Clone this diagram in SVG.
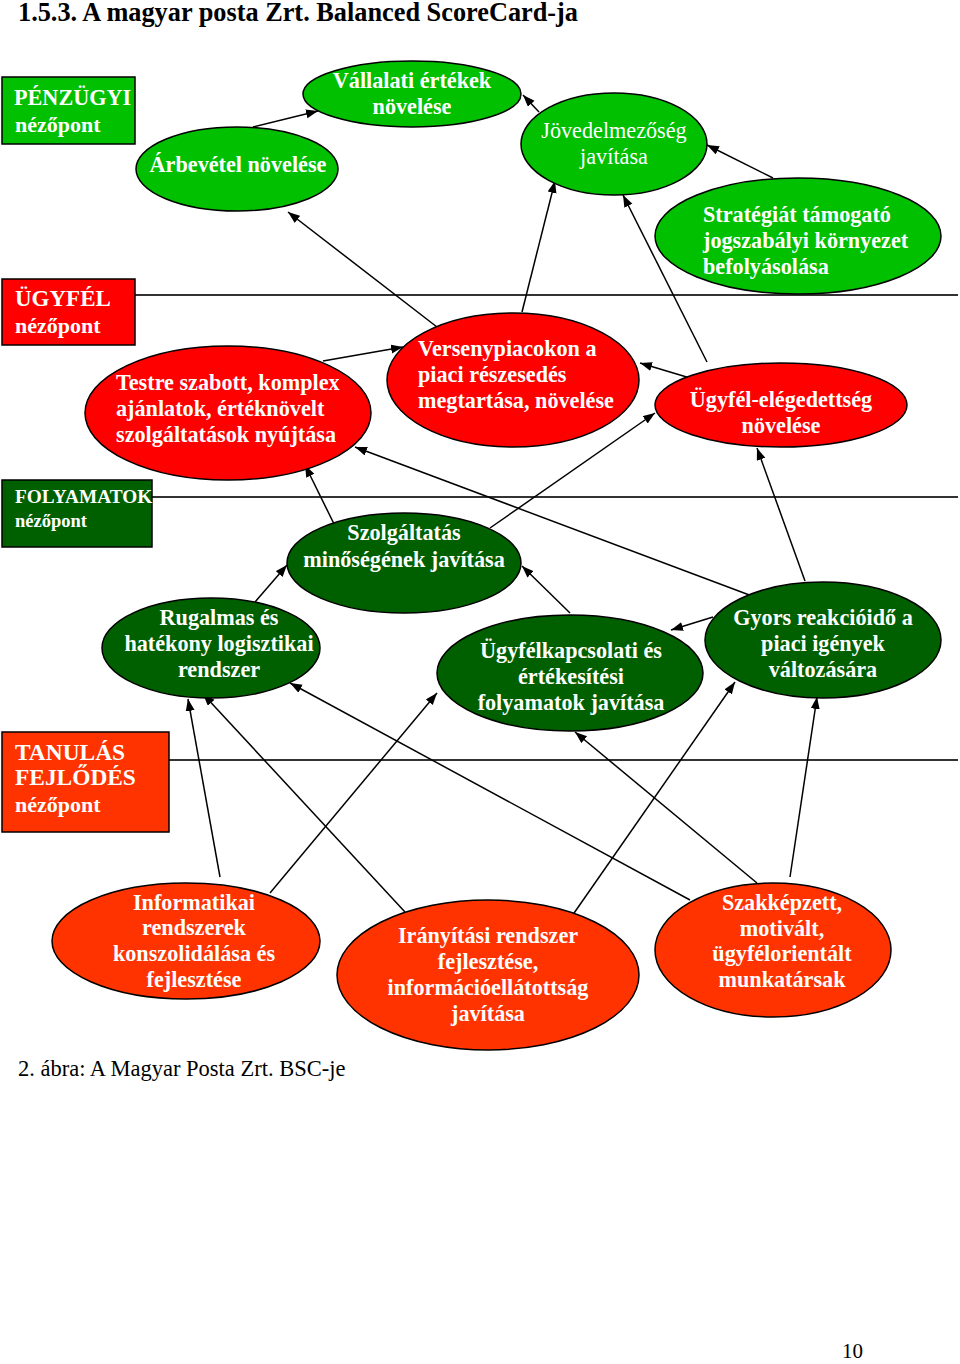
<svg xmlns="http://www.w3.org/2000/svg" width="960" height="1364" viewBox="0 0 960 1364">
<style>
.bg{fill:#00c000}.rd{fill:#ff0000}.dg{fill:#006000}.or{fill:#ff3300}
.n ellipse,.n rect{stroke:#000;stroke-width:1.5}
.t{font-family:"Liberation Serif","Times New Roman",serif;font-weight:bold;font-size:22.2px;fill:#fff}
.c{text-anchor:middle}
.nw{font-weight:normal}
.sep{stroke:#333;stroke-width:2}
.cn line{stroke:#000;stroke-width:1.5;marker-end:url(#ah)}
.hd{font-family:"Liberation Serif","Times New Roman",serif;fill:#000}
</style>
<defs>
<marker id="ah" markerUnits="userSpaceOnUse" markerWidth="13" markerHeight="10" refX="12" refY="4.5" orient="auto">
<path d="M0,0 L12,4.5 L0,9 z" fill="#000"/>
</marker>
</defs>
<rect width="960" height="1364" fill="#fff"/>
<text class="hd" x="18" y="21" font-size="26.3" font-weight="bold">1.5.3. A magyar posta Zrt. Balanced ScoreCard-ja</text>

<g id="separators">
<line class="sep" x1="135" y1="295" x2="958" y2="295"/>
<line class="sep" x1="152" y1="497" x2="958" y2="497"/>
<line class="sep" x1="169" y1="760" x2="958" y2="760"/>
</g>

<g id="p-penzugyi" class="n"><rect class="bg" x="2" y="77" width="133" height="67"/>
<text class="t" x="14" y="105" style="font-size:22.2px">PÉNZÜGYI</text><text class="t" x="15" y="132" style="font-size:22px">nézőpont</text></g>
<g id="p-ugyfel" class="n"><rect class="rd" x="2" y="279" width="133" height="66"/>
<text class="t" x="15" y="306" style="font-size:23px">ÜGYFÉL</text><text class="t" x="15" y="333" style="font-size:22px">nézőpont</text></g>
<g id="p-folyamatok" class="n"><rect class="dg" x="2" y="480" width="150" height="67"/>
<text class="t" x="15" y="503" style="font-size:19.3px">FOLYAMATOK</text><text class="t" x="15" y="527" style="font-size:18.5px">nézőpont</text></g>
<g id="p-tanulas" class="n"><rect class="or" x="2" y="732" width="167" height="100"/>
<text class="t" x="15" y="760" style="font-size:23.4px">TANULÁS</text><text class="t" x="15" y="785" style="font-size:23.4px">FEJLŐDÉS</text><text class="t" x="15" y="812" style="font-size:22px">nézőpont</text></g>

<g id="connectors" class="cn">
<line x1="253" y1="127" x2="318" y2="111"/>
<line x1="539" y1="112" x2="523" y2="95"/>
<line x1="773" y1="178" x2="707" y2="145"/>
<line x1="522" y1="312" x2="555" y2="181"/>
<line x1="707" y1="362" x2="623" y2="195"/>
<line x1="437" y1="327" x2="288" y2="212"/>
<line x1="323" y1="361" x2="403" y2="347"/>
<line x1="690" y1="378" x2="640" y2="363"/>
<line x1="490" y1="528" x2="655" y2="413"/>
<line x1="337" y1="530" x2="305" y2="465"/>
<line x1="752" y1="596" x2="355" y2="447"/>
<line x1="805" y1="581" x2="757" y2="448"/>
<line x1="713" y1="617" x2="671" y2="630"/>
<line x1="570" y1="613" x2="522" y2="566"/>
<line x1="255" y1="602" x2="287" y2="565"/>
<line x1="220" y1="877" x2="188" y2="699"/>
<line x1="405" y1="912" x2="203" y2="694"/>
<line x1="690" y1="900" x2="290" y2="683"/>
<line x1="270" y1="893" x2="437" y2="693"/>
<line x1="757" y1="883" x2="575" y2="732"/>
<line x1="572" y1="916" x2="735" y2="682"/>
<line x1="790" y1="877" x2="817" y2="697"/>
</g>

<g id="n-vallalati" class="n"><ellipse class="bg" cx="412" cy="94" rx="109" ry="33"/>
<text class="t c" x="412" y="88">Vállalati értékek</text><text class="t c" x="412" y="114">növelése</text></g>
<g id="n-arbevetel" class="n"><ellipse class="bg" cx="237" cy="169" rx="101" ry="42"/>
<text class="t c" x="238" y="172">Árbevétel növelése</text></g>
<g id="n-jovedelmezoseg" class="n"><ellipse class="bg" cx="614" cy="144" rx="93" ry="51"/>
<text class="t c nw" x="614" y="138">Jövedelmezőség</text><text class="t c nw" x="614" y="164">javítása</text></g>
<g id="n-strategia" class="n"><ellipse class="bg" cx="798" cy="236" rx="143" ry="58"/>
<text class="t" x="703" y="222">Stratégiát támogató</text><text class="t" x="703" y="248">jogszabályi környezet</text><text class="t" x="703" y="274">befolyásolása</text></g>

<g id="n-testre" class="n"><ellipse class="rd" cx="228" cy="413" rx="143" ry="67"/>
<text class="t" x="116" y="390">Testre szabott, komplex</text><text class="t" x="116" y="416">ajánlatok, értéknövelt</text><text class="t" x="116" y="442">szolgáltatások nyújtása</text></g>
<g id="n-versenypiac" class="n"><ellipse class="rd" cx="513" cy="380" rx="126" ry="67"/>
<text class="t" x="418" y="356">Versenypiacokon a</text><text class="t" x="418" y="382">piaci részesedés</text><text class="t" x="418" y="408">megtartása, növelése</text></g>
<g id="n-elegedettseg" class="n"><ellipse class="rd" cx="781" cy="405" rx="126" ry="42"/>
<text class="t c" x="781" y="407">Ügyfél-elégedettség</text><text class="t c" x="781" y="433">növelése</text></g>

<g id="n-szolgaltatas" class="n"><ellipse class="dg" cx="404" cy="563" rx="117" ry="50"/>
<text class="t c" x="404" y="540">Szolgáltatás</text><text class="t c" x="404" y="567">minőségének javítása</text></g>
<g id="n-rugalmas" class="n"><ellipse class="dg" cx="211" cy="648" rx="109" ry="50"/>
<text class="t c" x="219" y="625">Rugalmas és</text><text class="t c" x="219" y="651">hatékony logisztikai</text><text class="t c" x="219" y="677">rendszer</text></g>
<g id="n-ugyfelkapcsolati" class="n"><ellipse class="dg" cx="570" cy="673" rx="133" ry="58"/>
<text class="t c" x="571" y="658">Ügyfélkapcsolati és</text><text class="t c" x="571" y="684">értékesítési</text><text class="t c" x="571" y="710">folyamatok javítása</text></g>
<g id="n-gyors" class="n"><ellipse class="dg" cx="823" cy="640" rx="118" ry="58"/>
<text class="t c" x="823" y="625">Gyors reakcióidő a</text><text class="t c" x="823" y="651">piaci igények</text><text class="t c" x="823" y="677">változására</text></g>

<g id="n-informatikai" class="n"><ellipse class="or" cx="186" cy="941" rx="134" ry="58"/>
<text class="t c" x="194" y="910">Informatikai</text><text class="t c" x="194" y="935">rendszerek</text><text class="t c" x="194" y="961">konszolidálása és</text><text class="t c" x="194" y="987">fejlesztése</text></g>
<g id="n-iranyitasi" class="n"><ellipse class="or" cx="488" cy="975" rx="151" ry="75"/>
<text class="t c" x="488" y="943">Irányítási rendszer</text><text class="t c" x="488" y="969">fejlesztése,</text><text class="t c" x="488" y="995">információellátottság</text><text class="t c" x="488" y="1021">javítása</text></g>
<g id="n-szakkepzett" class="n"><ellipse class="or" cx="773" cy="950" rx="118" ry="67"/>
<text class="t c" x="782" y="910">Szakképzett,</text><text class="t c" x="782" y="936">motivált,</text><text class="t c" x="782" y="961">ügyfélorientált</text><text class="t c" x="782" y="987">munkatársak</text></g>

<text class="hd" x="18" y="1076" font-size="22.5">2. ábra: A Magyar Posta Zrt. BSC-je</text>
<text class="hd" x="842" y="1358" font-size="21">10</text>
</svg>
